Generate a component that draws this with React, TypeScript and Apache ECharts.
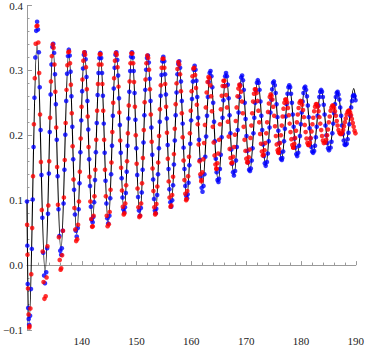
import React, { useEffect, useRef } from "react";
import * as echarts from "echarts";

const blackX = [130.0, 130.40, 131.85, 133.31, 134.76, 136.20, 137.64, 139.08, 140.51, 141.95, 143.38, 144.83, 146.28, 147.72, 149.16, 150.60, 152.03, 153.46, 154.88, 156.31, 157.74, 159.17, 160.60, 162.03, 163.46, 164.90, 166.33, 167.78, 169.22, 170.68, 172.13, 173.58, 175.03, 176.45, 177.87, 179.31, 180.74, 182.21, 183.68, 185.17, 186.65, 188.15, 189.64, 190.0];
const blackY = [0.100, -0.088, 0.342, -0.012, 0.336, 0.022, 0.329, 0.048, 0.329, 0.066, 0.327, 0.064, 0.328, 0.082, 0.328, 0.076, 0.323, 0.080, 0.321, 0.090, 0.314, 0.103, 0.307, 0.122, 0.299, 0.128, 0.296, 0.138, 0.292, 0.145, 0.285, 0.153, 0.282, 0.162, 0.277, 0.168, 0.274, 0.173, 0.270, 0.177, 0.268, 0.185, 0.272, 0.255];

// Peak position of each oscillation (blue follows the black curve, red drifts ahead)
const peakX = [131.85, 134.76, 137.64, 140.51, 143.38, 146.28, 149.16, 152.03, 154.88, 157.74, 160.60, 163.46, 166.33, 169.22, 172.13, 175.03, 177.87, 180.74, 183.68, 186.65, 189.64];
const redPeakX = [131.83, 134.74, 137.62, 140.49, 143.36, 146.26, 149.14, 152.00, 154.83, 157.66, 160.45, 163.16, 165.95, 168.79, 171.67, 174.51, 177.22, 179.94, 182.81, 185.77, 188.74];

// Position of each dot relative to its cycle's peak (even / odd cycles)
const blueOffsetsEven = [-1.28, -1.12, -0.96, -0.80, -0.64, -0.48, -0.32, -0.16, 0, 0.16, 0.32, 0.48, 0.64, 0.80, 0.96, 1.12, 1.28, 1.44];
const blueOffsetsOdd = [-1.24, -1.08, -0.92, -0.76, -0.60, -0.44, -0.28, -0.12, 0.04, 0.20, 0.36, 0.52, 0.68, 0.84, 1.00, 1.16, 1.32, 1.48];
const redOffsetsEven = [-1.36, -1.20, -1.04, -0.88, -0.72, -0.56, -0.40, -0.24, -0.08, 0.08, 0.24, 0.40, 0.56, 0.72, 0.88, 1.04, 1.20, 1.36];
const redOffsetsOdd = [-1.32, -1.16, -1.00, -0.84, -0.68, -0.52, -0.36, -0.20, -0.04, 0.12, 0.28, 0.44, 0.60, 0.76, 0.92, 1.08, 1.24, 1.40];

// Blue dot values, one row per cycle
const blueRows = [
  [-0.078, -0.037, 0.025, 0.101, 0.182, 0.258, 0.320, 0.361, 0.375, 0.363, 0.328, 0.274, 0.208, 0.139, 0.073, 0.019, -0.016, -0.028],
  [-0.011, 0.026, 0.079, 0.141, 0.205, 0.263, 0.309, 0.336, 0.341, 0.327, 0.294, 0.248, 0.193, 0.137, 0.086, 0.045, 0.022, 0.016],
  [0.026, 0.053, 0.095, 0.147, 0.201, 0.253, 0.295, 0.322, 0.332, 0.323, 0.298, 0.260, 0.213, 0.163, 0.116, 0.078, 0.053, 0.044],
  [0.057, 0.086, 0.126, 0.174, 0.223, 0.268, 0.303, 0.324, 0.328, 0.317, 0.290, 0.253, 0.209, 0.163, 0.122, 0.090, 0.070, 0.066],
  [0.074, 0.097, 0.131, 0.174, 0.219, 0.262, 0.296, 0.319, 0.327, 0.319, 0.296, 0.261, 0.218, 0.173, 0.130, 0.095, 0.072, 0.064],
  [0.076, 0.103, 0.140, 0.184, 0.230, 0.272, 0.304, 0.324, 0.328, 0.316, 0.292, 0.257, 0.216, 0.173, 0.134, 0.104, 0.086, 0.082],
  [0.089, 0.111, 0.144, 0.184, 0.226, 0.267, 0.299, 0.321, 0.328, 0.320, 0.299, 0.265, 0.224, 0.180, 0.139, 0.105, 0.084, 0.076],
  [0.088, 0.112, 0.147, 0.189, 0.231, 0.270, 0.301, 0.319, 0.323, 0.312, 0.287, 0.253, 0.212, 0.170, 0.132, 0.102, 0.084, 0.080],
  [0.087, 0.108, 0.140, 0.180, 0.221, 0.261, 0.293, 0.314, 0.321, 0.314, 0.294, 0.263, 0.226, 0.185, 0.148, 0.117, 0.097, 0.090],
  [0.100, 0.123, 0.155, 0.192, 0.231, 0.266, 0.294, 0.310, 0.314, 0.304, 0.283, 0.253, 0.218, 0.181, 0.148, 0.122, 0.107, 0.103],
  [0.109, 0.127, 0.154, 0.187, 0.223, 0.256, 0.283, 0.301, 0.307, 0.301, 0.284, 0.259, 0.227, 0.193, 0.162, 0.136, 0.119, 0.113],
  [0.122, 0.140, 0.167, 0.198, 0.230, 0.259, 0.282, 0.296, 0.299, 0.291, 0.274, 0.250, 0.221, 0.191, 0.164, 0.143, 0.131, 0.128],
  [0.133, 0.148, 0.170, 0.197, 0.227, 0.254, 0.276, 0.291, 0.296, 0.291, 0.278, 0.257, 0.231, 0.203, 0.178, 0.156, 0.143, 0.138],
  [0.145, 0.161, 0.182, 0.208, 0.235, 0.259, 0.278, 0.289, 0.292, 0.285, 0.270, 0.250, 0.225, 0.199, 0.176, 0.158, 0.147, 0.145],
  [0.149, 0.161, 0.180, 0.203, 0.227, 0.250, 0.269, 0.281, 0.285, 0.281, 0.270, 0.252, 0.230, 0.208, 0.186, 0.168, 0.157, 0.153],
  [0.159, 0.172, 0.191, 0.212, 0.235, 0.255, 0.271, 0.281, 0.283, 0.277, 0.265, 0.248, 0.228, 0.207, 0.188, 0.173, 0.164, 0.162],
  [0.165, 0.175, 0.191, 0.210, 0.229, 0.248, 0.264, 0.274, 0.277, 0.274, 0.264, 0.250, 0.232, 0.213, 0.195, 0.181, 0.171, 0.168],
  [0.173, 0.184, 0.199, 0.217, 0.235, 0.252, 0.265, 0.273, 0.275, 0.270, 0.260, 0.246, 0.228, 0.211, 0.195, 0.182, 0.175, 0.173],
  [0.176, 0.184, 0.197, 0.213, 0.230, 0.246, 0.259, 0.267, 0.270, 0.267, 0.259, 0.247, 0.232, 0.215, 0.200, 0.188, 0.180, 0.177],
  [0.181, 0.190, 0.203, 0.218, 0.234, 0.248, 0.259, 0.265, 0.267, 0.263, 0.255, 0.243, 0.230, 0.215, 0.202, 0.192, 0.186, 0.185],
  [0.187, 0.194, 0.204, 0.217, 0.230, 0.243, 0.253, 0.260, 0.262, 0.260, 0.254],
];

// Red dot values, one row per cycle
const redRows = [
  [-0.094, -0.067, -0.014, 0.057, 0.137, 0.217, 0.288, 0.341, 0.368, 0.369, 0.343, 0.296, 0.232, 0.159, 0.085, 0.021, -0.026, -0.052],
  [-0.048, -0.019, 0.029, 0.092, 0.160, 0.227, 0.283, 0.322, 0.340, 0.335, 0.309, 0.267, 0.212, 0.151, 0.093, 0.043, 0.008, -0.007],
  [-0.005, 0.015, 0.053, 0.104, 0.162, 0.219, 0.270, 0.308, 0.328, 0.329, 0.311, 0.278, 0.234, 0.183, 0.132, 0.088, 0.055, 0.037],
  [0.040, 0.062, 0.098, 0.144, 0.195, 0.244, 0.286, 0.315, 0.328, 0.324, 0.305, 0.271, 0.229, 0.182, 0.136, 0.098, 0.071, 0.059],
  [0.060, 0.076, 0.106, 0.147, 0.193, 0.238, 0.279, 0.309, 0.325, 0.325, 0.309, 0.279, 0.238, 0.193, 0.147, 0.106, 0.076, 0.060],
  [0.063, 0.082, 0.116, 0.158, 0.205, 0.250, 0.288, 0.315, 0.327, 0.324, 0.305, 0.275, 0.235, 0.192, 0.150, 0.115, 0.090, 0.078],
  [0.080, 0.095, 0.123, 0.160, 0.203, 0.246, 0.283, 0.311, 0.326, 0.326, 0.311, 0.282, 0.244, 0.200, 0.156, 0.118, 0.089, 0.074],
  [0.076, 0.095, 0.126, 0.165, 0.208, 0.251, 0.286, 0.311, 0.323, 0.319, 0.301, 0.271, 0.232, 0.190, 0.149, 0.114, 0.089, 0.078],
  [0.080, 0.094, 0.121, 0.158, 0.199, 0.240, 0.277, 0.304, 0.318, 0.318, 0.304, 0.279, 0.244, 0.204, 0.164, 0.129, 0.104, 0.090],
  [0.092, 0.108, 0.136, 0.171, 0.210, 0.248, 0.280, 0.302, 0.313, 0.309, 0.294, 0.268, 0.234, 0.197, 0.161, 0.131, 0.110, 0.100],
  [0.102, 0.114, 0.137, 0.167, 0.203, 0.238, 0.268, 0.291, 0.303, 0.304, 0.293, 0.273, 0.247, 0.217, 0.186, 0.160, 0.140, 0.129],
  [0.131, 0.143, 0.163, 0.188, 0.216, 0.243, 0.266, 0.282, 0.290, 0.288, 0.277, 0.260, 0.237, 0.213, 0.189, 0.169, 0.155, 0.148],
  [0.149, 0.157, 0.172, 0.193, 0.217, 0.240, 0.261, 0.276, 0.284, 0.284, 0.276, 0.262, 0.243, 0.221, 0.198, 0.179, 0.165, 0.157],
  [0.158, 0.167, 0.182, 0.201, 0.222, 0.243, 0.260, 0.272, 0.278, 0.276, 0.267, 0.252, 0.234, 0.213, 0.193, 0.176, 0.164, 0.158],
  [0.159, 0.166, 0.178, 0.196, 0.215, 0.234, 0.252, 0.264, 0.271, 0.271, 0.265, 0.253, 0.238, 0.220, 0.202, 0.187, 0.175, 0.169],
  [0.170, 0.177, 0.188, 0.203, 0.220, 0.236, 0.249, 0.259, 0.263, 0.261, 0.255, 0.244, 0.230, 0.214, 0.199, 0.186, 0.177, 0.173],
  [0.174, 0.179, 0.188, 0.200, 0.215, 0.229, 0.241, 0.250, 0.255, 0.255, 0.251, 0.242, 0.231, 0.218, 0.205, 0.194, 0.185, 0.181],
  [0.181, 0.187, 0.196, 0.207, 0.220, 0.232, 0.242, 0.250, 0.253, 0.252, 0.247, 0.239, 0.228, 0.216, 0.205, 0.195, 0.188, 0.185],
  [0.185, 0.189, 0.196, 0.206, 0.217, 0.227, 0.237, 0.244, 0.248, 0.248, 0.244, 0.237, 0.228, 0.218, 0.208, 0.199, 0.192, 0.188],
  [0.189, 0.193, 0.200, 0.209, 0.220, 0.229, 0.238, 0.243, 0.246, 0.245, 0.242, 0.237, 0.230, 0.222, 0.215, 0.208, 0.204, 0.202],
  [0.202, 0.204, 0.208, 0.214, 0.220, 0.226, 0.232, 0.236, 0.238, 0.238, 0.235, 0.231, 0.225, 0.219, 0.213, 0.207, 0.203, 0.200],
];

// The steep drop at the very start
const blueStartX = [130.00, 130.07, 130.14, 130.22, 130.32, 130.40];
const blueStartY = [0.098, 0.030, -0.029, -0.066, -0.083, -0.092];
const redStartX = [130.03, 130.10, 130.19, 130.30, 130.42];
const redStartY = [0.062, 0.016, -0.036, -0.076, -0.096];

const xTicks = { min: 130, max: 190, interval: 10 };
const yTicks = { min: -0.1, max: 0.4, interval: 0.1 };

function buildDots(sx: number[], sy: number[], peaks: number[], offEven: number[], offOdd: number[], rows: number[][]) {
  const pts: number[][] = sx.map((x, i) => [x, sy[i]]);
  rows.forEach((row, k) => {
    const offs = k % 2 === 0 ? offEven : offOdd;
    row.forEach((y, j) => {
      const x = peaks[k] + offs[j];
      if (x <= 190) pts.push([x, y]);
    });
  });
  return pts;
}

const serifRich = { s: { fontFamily: "Liberation Serif", fontSize: 11, color: "#222" } };

export default function App() {
  const ref = useRef<HTMLDivElement>(null);
  useEffect(() => {
    if (!ref.current) return;
    const chart = echarts.init(ref.current, undefined, { renderer: "svg" });
    const axisColor = "#9a9a9a";
    chart.setOption({
      animation: false,
      grid: { left: 24.4, right: 8.3, top: 5, bottom: 7 },
      xAxis: {
        type: "value",
        ...xTicks,
        axisLine: { show: true, onZero: true, lineStyle: { color: axisColor, width: 1 } },
        axisTick: { show: true, inside: true, length: 4, lineStyle: { color: axisColor } },
        minorTick: { show: true, splitNumber: 5, length: 2.5, lineStyle: { color: axisColor } },
        axisLabel: {
          margin: 5,
          showMinLabel: false,
          formatter: (v: number) => "{s|" + v + "}",
          rich: serifRich,
        },
        splitLine: { show: false },
      },
      yAxis: {
        type: "value",
        ...yTicks,
        axisLine: { show: true, onZero: false, lineStyle: { color: axisColor, width: 1 } },
        axisTick: { show: true, inside: true, length: 5, lineStyle: { color: axisColor } },
        minorTick: { show: true, splitNumber: 5, length: 2.5, lineStyle: { color: axisColor } },
        axisLabel: {
          margin: 4,
          formatter: (v: number) => "{s|" + (v < -1e-9 ? "\u2212" : "") + Math.abs(v).toFixed(1) + "}",
          rich: serifRich,
        },
        splitLine: { show: false },
      },
      series: [
        {
          type: "line",
          data: blackX.map((x, i) => [x, blackY[i]]),
          smooth: 0.36,
          showSymbol: false,
          lineStyle: { color: "#000", width: 1.1 },
          z: 1,
        },
        {
          type: "scatter",
          data: buildDots(blueStartX, blueStartY, peakX, blueOffsetsEven, blueOffsetsOdd, blueRows),
          symbolSize: 4.6,
          itemStyle: { color: "#0000ff" },
          z: 2,
        },
        {
          type: "scatter",
          data: buildDots(redStartX, redStartY, redPeakX, redOffsetsEven, redOffsetsOdd, redRows),
          symbolSize: 4.6,
          itemStyle: { color: "#ff0000" },
          z: 3,
        },
      ],
    });
    return () => chart.dispose();
  }, []);
  return <div ref={ref} style={{ position: "absolute", left: 0, top: 0, width: 367, height: 346 }} />;
}
